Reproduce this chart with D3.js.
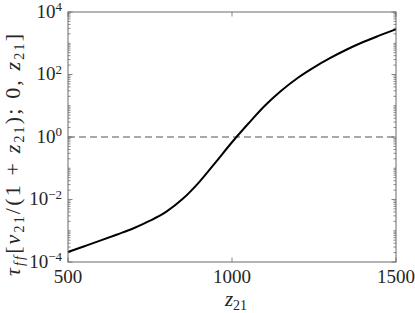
<!DOCTYPE html>
<html lang="en">
<head>
  <meta charset="utf-8">
  <title>tau_ff vs z21</title>
  <script src="https://cdn.jsdelivr.net/npm/d3@7"></script>
  <style>
    body { margin: 0; background: #fff; }
  </style>
</head>
<body>
<script>
// values
var z21 = [500, 550, 600, 650, 700, 750, 800, 850, 900, 950, 1000,
           1050, 1100, 1150, 1200, 1250, 1300, 1350, 1400, 1450, 1500];
var tauFF = [2.1e-4, 3.2e-4, 4.9e-4, 7.6e-4, 1.2e-3, 2.1e-3, 4.1e-3, 1.05e-2, 3.6e-2, 0.155, 0.68,
             2.7, 10, 30.2, 77.6, 170, 339, 631, 1096, 1778, 2818];
var refLevel = [1];
var xTicks = [500, 1000, 1500];
var yTickExp = [-4, -2, 0, 2, 4];

var width = 415;
var height = 313;
var margin = {top: 12, right: 19, bottom: 51, left: 68};
var font = "Liberation Serif";

var svg = d3.select("body")
  .append("svg")
  .attr("width", width)
  .attr("height", height);

var x = d3.scaleLinear()
  .domain([500, 1500])
  .range([margin.left, width - margin.right]);

var y = d3.scaleLog()
  .domain([1e-4, 1e4])
  .range([height - margin.bottom, margin.top]);

var axisColor = "#6b6b6b";
var textColor = "#262626";

// minor ticks on left and right (log subdivisions)
var minor = y.ticks().filter(function(d) {
  var e = Math.log10(d);
  return Math.abs(e - Math.round(e)) > 1e-6 || yTickExp.indexOf(Math.round(e)) < 0;
});
var ticksG = svg.append("g").attr("stroke", axisColor).attr("stroke-width", 0.8);
[[x.range()[0], 1], [x.range()[1], -1]].forEach(function(side) {
  ticksG.selectAll(null)
    .data(minor)
    .enter()
    .append("line")
    .attr("x1", side[0])
    .attr("x2", side[0] + side[1] * 2.5)
    .attr("y1", function(d) { return y(d); })
    .attr("y2", function(d) { return y(d); });
  ticksG.selectAll(null)
    .data(yTickExp)
    .enter()
    .append("line")
    .attr("x1", side[0])
    .attr("x2", side[0] + side[1] * 4.5)
    .attr("y1", function(d) { return y(Math.pow(10, d)); })
    .attr("y2", function(d) { return y(Math.pow(10, d)); });
});
// x ticks top and bottom
[[y.range()[0], -1], [y.range()[1], 1]].forEach(function(side) {
  ticksG.selectAll(null)
    .data(xTicks)
    .enter()
    .append("line")
    .attr("x1", function(d) { return x(d); })
    .attr("x2", function(d) { return x(d); })
    .attr("y1", side[0])
    .attr("y2", side[0] + side[1] * 4.5);
});

// reference line at 1
svg.selectAll(".ref")
  .data(refLevel)
  .enter()
  .append("line")
  .attr("class", "ref")
  .attr("x1", x.range()[0])
  .attr("x2", x.range()[1])
  .attr("y1", function(d) { return y(d); })
  .attr("y2", function(d) { return y(d); })
  .attr("stroke", "#555")
  .attr("stroke-width", 1.2)
  .attr("stroke-dasharray", "7,4");

// curve
var line = d3.line()
  .x(function(d, i) { return x(z21[i]); })
  .y(function(d) { return y(d); })
  .curve(d3.curveMonotoneX);

svg.append("path")
  .datum(tauFF)
  .attr("fill", "none")
  .attr("stroke", "#000")
  .attr("stroke-width", 2)
  .attr("d", line);

// box
svg.append("rect")
  .attr("x", x.range()[0])
  .attr("y", y.range()[1])
  .attr("width", x.range()[1] - x.range()[0])
  .attr("height", y.range()[0] - y.range()[1])
  .attr("fill", "none")
  .attr("stroke", axisColor)
  .attr("stroke-width", 1);

// x tick labels
svg.selectAll(".xlab")
  .data(xTicks)
  .enter()
  .append("text")
  .attr("x", function(d) { return x(d); })
  .attr("y", 283)
  .attr("text-anchor", "middle")
  .attr("font-size", 19)
  .attr("fill", textColor)
  .style("font-family", font)
  .text(function(d) { return d; });

// y tick labels 10^k
var yl = svg.selectAll(".ylab")
  .data(yTickExp)
  .enter()
  .append("text")
  .attr("x", 62)
  .attr("y", function(d) { return y(Math.pow(10, d)) + 5.5; })
  .attr("text-anchor", "end")
  .attr("font-size", 19)
  .attr("fill", textColor)
  .style("font-family", font);
yl.append("tspan").text("10");
yl.append("tspan")
  .attr("font-size", 13)
  .attr("dy", -6.5)
  .text(function(d) { return d < 0 ? "\u2212" + (-d) : d; });

// math text helper: pieces [text, kind] kind: "" roman, "i" italic, "s" sub roman, "si" sub italic
function mathText(sel, pieces) {
  var shifted = false;
  pieces.forEach(function(p) {
    var t = sel.append("tspan").text(p[0]);
    var isSub = p[1].indexOf("s") >= 0;
    if (p[1].indexOf("i") >= 0) t.attr("font-style", "italic");
    if (isSub) t.attr("font-size", 14);
    if (isSub && !shifted) { t.attr("dy", 4); shifted = true; }
    if (!isSub && shifted) { t.attr("dy", -4); shifted = false; }
  });
}

// x label
var xl = svg.append("text")
  .attr("x", 236)
  .attr("y", 306)
  .attr("text-anchor", "middle")
  .attr("font-size", 21)
  .attr("fill", textColor)
  .style("font-family", font);
mathText(xl, [["z", "i"], ["21", "s"]]);

// y label
var ylab = svg.append("text")
  .attr("transform", "translate(20,155) rotate(-90)")
  .attr("text-anchor", "middle")
  .attr("font-size", 22)
  .attr("fill", textColor)
  .style("font-family", font);
mathText(ylab, [["\u03c4", "i"], ["ff", "si"], ["[", ""], ["\u03bd", "i"], ["21", "s"],
  ["/(1 + ", ""], ["z", "i"], ["21", "s"], ["); 0, ", ""], ["z", "i"], ["21", "s"], ["]", ""]]);
var labLen = ylab.node().getComputedTextLength();
if (labLen < 242) ylab.attr("textLength", 242).attr("lengthAdjust", "spacing");
</script>
</body>
</html>
